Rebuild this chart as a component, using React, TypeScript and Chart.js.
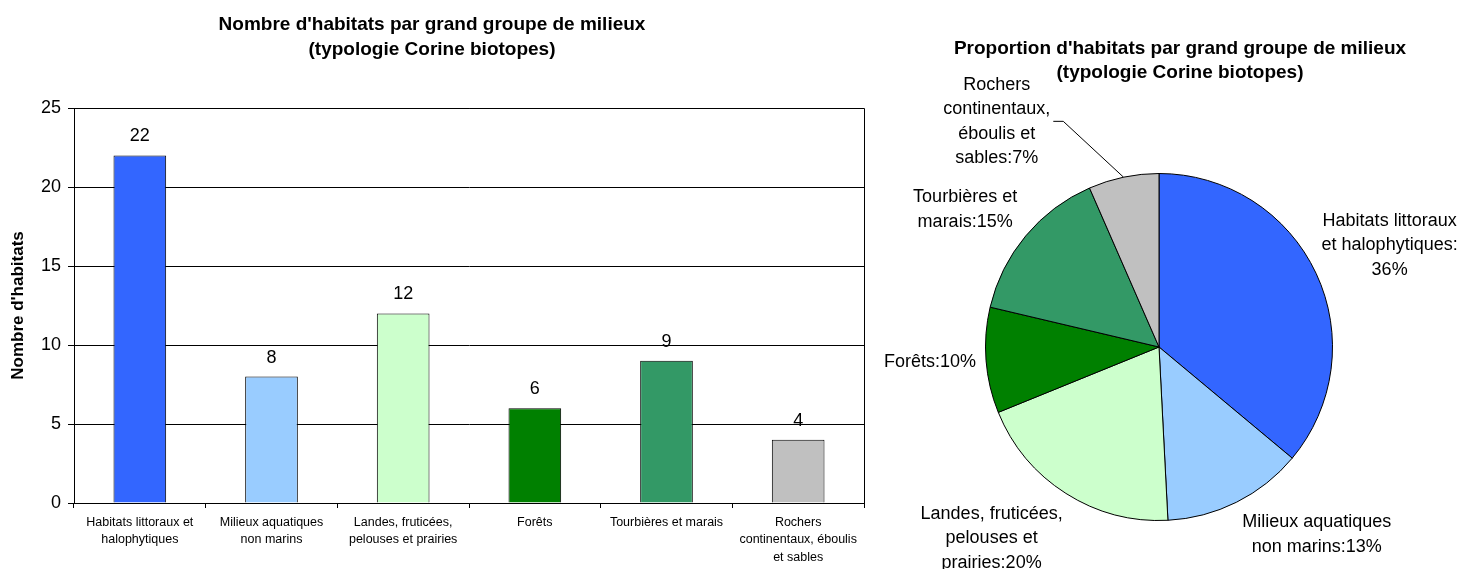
import React, { useEffect, useRef } from 'react';
import { Chart, registerables } from 'chart.js';

Chart.register(...registerables);

// ---------- data ----------
const categories: string[][] = [
  ['Habitats littoraux et', 'halophytiques'],
  ['Milieux aquatiques', 'non marins'],
  ['Landes, fruticées,', 'pelouses et prairies'],
  ['Forêts'],
  ['Tourbières et marais'],
  ['Rochers', 'continentaux, éboulis', 'et sables'],
];
const habitatCounts = [22, 8, 12, 6, 9, 4];
const groupColors = ['#3366FF', '#99CCFF', '#CCFFCC', '#008000', '#339966', '#C0C0C0'];
const yAxisMin = 0;
const yAxisMax = 25;
const yAxisStep = 5;
const pieLabelLines: string[][] = [
  ['Habitats littoraux', 'et halophytiques:', '{p}%'],
  ['Milieux aquatiques', 'non marins:{p}%'],
  ['Landes, fruticées,', 'pelouses et', 'prairies:{p}%'],
  ['Forêts:{p}%'],
  ['Tourbières et', 'marais:{p}%'],
  ['Rochers', 'continentaux,', 'éboulis et', 'sables:{p}%'],
];
const barTitle = ["Nombre d'habitats par grand groupe de milieux", '(typologie Corine biotopes)'];
const pieTitle = ["Proportion d'habitats par grand groupe de milieux", '(typologie Corine biotopes)'];
const yAxisTitle = "Nombre d'habitats";

// ---------- layout / style ----------
const FONT = "'Liberation Sans', Arial, Helvetica, sans-serif";
const PIE_LABEL_LH = 24.5;
const PIE_LABEL_NUDGE: number[][] = [[0, -10], [3, 5], [0, 9], [-4, 0], [-4, -7], [-72, -2]];
const PIE_LEADER = [false, false, false, false, false, true];

function hasFont(name: string): boolean {
  const c = document.createElement('canvas').getContext('2d');
  if (!c) return false;
  const s = 'Habitats littoraux et halophytiques';
  c.font = '40px monospace';
  const a = c.measureText(s).width;
  c.font = `40px '${name}', monospace`;
  const b = c.measureText(s).width;
  return Math.abs(a - b) > 0.5;
}

export default function App() {
  const barRef = useRef<HTMLCanvasElement>(null);
  const pieRef = useRef<HTMLCanvasElement>(null);

  useEffect(() => {
    const narrow = hasFont('Liberation Sans Narrow');
    const xFont = narrow
      ? { family: "'Liberation Sans Narrow', 'Liberation Sans', Arial, sans-serif", size: 15, lineHeight: 1.15 }
      : { family: FONT, size: 12.5, lineHeight: 17.25 / 12.5 };

    const barValueLabels = {
      id: 'barValueLabels',
      afterDatasetsDraw(chart: any) {
        const ctx = chart.ctx;
        const meta = chart.getDatasetMeta(0);
        const data = chart.data.datasets[0].data;
        ctx.save();
        ctx.font = `18px ${FONT}`;
        ctx.fillStyle = '#000';
        ctx.textAlign = 'center';
        ctx.textBaseline = 'middle';
        meta.data.forEach((bar: any, i: number) => {
          ctx.fillText(String(data[i]), bar.x, bar.y - 19);
        });
        ctx.restore();
      },
    };
    const plotBorder = {
      id: 'plotBorder',
      beforeDatasetsDraw(chart: any) {
        const { left, right, top, bottom } = chart.chartArea;
        const ctx = chart.ctx;
        ctx.save();
        ctx.strokeStyle = '#000';
        ctx.lineWidth = 1;
        ctx.beginPath();
        const r = Math.round(right) + 0.5;
        const t = Math.round(top) + 0.5;
        ctx.moveTo(Math.round(left) + 0.5, t);
        ctx.lineTo(r, t);
        ctx.lineTo(r, Math.round(bottom) + 0.5);
        ctx.stroke();
        ctx.restore();
      },
    };

    const bar = new Chart(barRef.current as HTMLCanvasElement, {
      type: 'bar',
      data: {
        labels: categories,
        datasets: [
          {
            data: habitatCounts,
            backgroundColor: groupColors,
            borderColor: '#000',
            borderWidth: 1,
            barPercentage: 0.4,
            categoryPercentage: 1,
          },
        ],
      },
      options: {
        responsive: false,
        animation: false,
        layout: { padding: { left: 0, right: 6, top: 0, bottom: 0 } },
        plugins: {
          legend: { display: false },
          tooltip: { enabled: false },
          title: {
            display: true,
            text: barTitle,
            color: '#000',
            font: { family: FONT, size: 19, weight: 'bold', lineHeight: 25 / 19 },
            padding: { top: 12.5, bottom: 45.5 },
          },
        },
        scales: {
          x: {
            grid: { offset: true, drawOnChartArea: false, drawTicks: true, tickLength: 5, color: '#000' },
            border: { color: '#000' },
            ticks: { color: '#000', font: xFont as any, padding: 6, maxRotation: 0, minRotation: 0, autoSkip: false },
            afterFit(s: any) {
              s.height = 66;
            },
          },
          y: {
            min: yAxisMin,
            max: yAxisMax,
            ticks: { stepSize: yAxisStep, color: '#000', font: { family: FONT, size: 18 }, padding: 7 },
            grid: { color: '#000', tickLength: 6 },
            border: { color: '#000' },
            title: {
              display: true,
              text: yAxisTitle,
              color: '#000',
              font: { family: FONT, size: 17, weight: 'bold', lineHeight: 1.2 },
              padding: { top: 8, bottom: 0 },
            },
            afterFit(s: any) {
              s.width = 74;
            },
          },
        },
      },
      plugins: [plotBorder, barValueLabels],
    } as any);

    const total = habitatCounts.reduce((a, b) => a + b, 0);
    const pieTitlePlugin = {
      id: 'pieTitle',
      afterDraw(chart: any) {
        const ctx = chart.ctx;
        ctx.save();
        ctx.font = `bold 19px ${FONT}`;
        ctx.fillStyle = '#000';
        ctx.textAlign = 'center';
        ctx.textBaseline = 'middle';
        ctx.fillText(pieTitle[0], 310, 49);
        ctx.fillText(pieTitle[1], 310, 73);
        ctx.restore();
      },
    };
    const pieLabels = {
      id: 'pieLabels',
      afterDatasetsDraw(chart: any) {
        const ctx = chart.ctx;
        const meta = chart.getDatasetMeta(0);
        const data = chart.data.datasets[0].data;
        ctx.save();
        ctx.font = `18px ${FONT}`;
        ctx.fillStyle = '#000';
        ctx.strokeStyle = '#000';
        ctx.lineWidth = 1;
        ctx.textAlign = 'center';
        ctx.textBaseline = 'middle';
        meta.data.forEach((arc: any, i: number) => {
          const p = arc.getProps(['x', 'y', 'startAngle', 'endAngle', 'outerRadius'], true);
          const mid = (p.startAngle + p.endAngle) / 2;
          const cos = Math.cos(mid);
          const sin = Math.sin(mid);
          const pct = Math.round((data[i] / total) * 100);
          const lines = pieLabelLines[i].map((s) => s.replace('{p}', String(pct)));
          const W = Math.max(...lines.map((l) => ctx.measureText(l).width));
          const H = lines.length * PIE_LABEL_LH;
          const ax = p.x + (p.outerRadius + 6) * cos;
          const ay = p.y + (p.outerRadius + 6) * sin;
          const cx = ax + Math.sign(cos) * (W / 2) + PIE_LABEL_NUDGE[i][0];
          const cy = ay + (sin * H) / 2 + PIE_LABEL_NUDGE[i][1];
          lines.forEach((l, j) => ctx.fillText(l, cx, cy - H / 2 + PIE_LABEL_LH * (j + 0.5)));
          if (PIE_LEADER[i]) {
            ctx.beginPath();
            ctx.moveTo(cx + W / 2 + 3, cy);
            ctx.lineTo(cx + W / 2 + 13, cy);
            ctx.lineTo(p.x + p.outerRadius * cos, p.y + p.outerRadius * sin);
            ctx.stroke();
          }
        });
        ctx.restore();
      },
    };

    const pie = new Chart(pieRef.current as HTMLCanvasElement, {
      type: 'pie',
      data: {
        labels: categories.map((c) => c.join(' ')),
        datasets: [
          {
            data: habitatCounts,
            backgroundColor: groupColors,
            borderColor: '#000',
            borderWidth: 1,
          },
        ],
      },
      options: {
        responsive: false,
        animation: false,
        layout: { padding: { left: 115, right: 133, top: 173, bottom: 48 } },
        plugins: {
          legend: { display: false },
          tooltip: { enabled: false },
        },
      },
      plugins: [pieLabels, pieTitlePlugin],
    } as any);

    return () => {
      bar.destroy();
      pie.destroy();
    };
  }, []);

  return (
    <div
      style={{
        position: 'absolute',
        left: 0,
        top: 0,
        width: 1466,
        height: 569,
        background: '#fff',
        overflow: 'hidden',
      }}
    >
      <canvas ref={barRef} width={870} height={569} style={{ position: 'absolute', left: 0, top: 0 }} />
      <canvas ref={pieRef} width={596} height={569} style={{ position: 'absolute', left: 870, top: 0 }} />
    </div>
  );
}
